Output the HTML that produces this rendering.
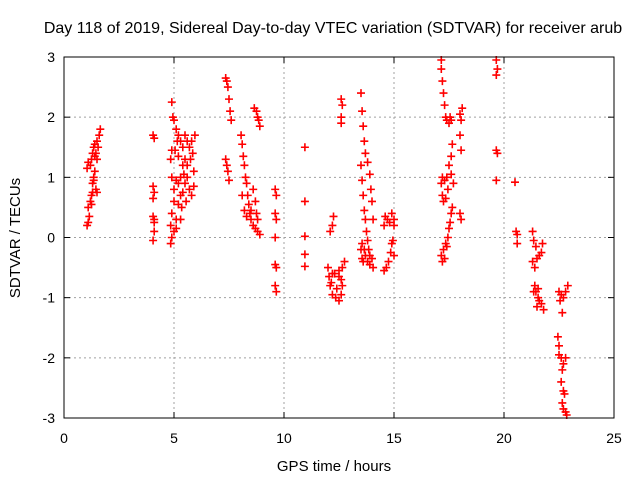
<!DOCTYPE html>
<html><head><meta charset="utf-8"><style>
body{margin:0;background:#fff;}
svg{font-family:"Liberation Sans",sans-serif;}
</style></head><body>
<svg id="c" width="640" height="480" xmlns="http://www.w3.org/2000/svg">
<rect width="640" height="480" fill="#fff"/>
<text x="333" y="33" font-size="16" text-anchor="middle">Day 118 of 2019, Sidereal Day-to-day VTEC variation (SDTVAR) for receiver arub</text>
<text x="334" y="471" font-size="15" text-anchor="middle">GPS time / hours</text>
<text transform="translate(20,238) rotate(-90)" font-size="15" text-anchor="middle">SDTVAR / TECUs</text>
<g id="grid"></g><g id="ticks"></g><g id="pts"></g>
<rect x="64" y="57" width="550" height="361" fill="none" stroke="#000" stroke-width="1"/>
</svg>
<script>
const xTicks=[0,5,10,15,20,25];
const yTicks=[-3,-2,-1,0,1,2,3];
const xs=[1.05,1.1,1.15,1.1,1.2,1.25,1.3,1.3,1.35,1.4,1.45,1.5,1.2,1.25,1.3,1.35,1.4,1.45,1.5,1.55,1.6,1.65,1.05,1.1,1.35,1.4,1.5,1.25,
4.05,4.1,4.05,4.1,4.05,4.05,4.1,4.1,4.05,4.1,
4.9,4.95,5.0,5.1,5.2,5.3,5.4,5.5,5.6,5.7,5.8,5.5,5.4,5.3,5.2,5.1,5.0,4.9,4.85,4.9,5.05,5.2,5.0,4.9,4.85,4.9,4.85,5.0,5.1,5.2,5.3,5.35,5.4,5.5,5.6,5.7,5.8,5.9,5.6,5.75,5.9,5.85,5.95,5.1,5.3,5.45,5.55,5.15,
7.35,7.4,7.45,7.5,7.55,7.6,7.35,7.4,7.45,7.5,
8.05,8.1,8.15,8.2,8.25,8.3,8.35,8.4,8.45,8.1,8.2,8.3,8.5,8.6,8.7,8.8,8.9,8.5,8.6,8.7,8.75,8.8,8.65,8.75,8.85,8.9,8.8,
9.6,9.65,9.6,9.65,9.6,9.6,9.65,9.6,9.65,
10.95,10.95,10.95,10.95,10.95,
12.1,12.2,12.25,
12.0,12.05,12.1,12.2,12.35,12.5,12.6,12.65,12.6,12.5,12.3,12.2,12.5,12.65,12.75,12.15,12.4,
12.6,12.65,12.6,12.6,
13.5,13.55,13.6,13.65,13.7,13.5,13.55,13.6,13.65,13.7,13.75,13.8,13.85,13.9,13.8,13.9,13.95,14.0,14.05,13.5,13.55,13.6,13.7,13.8,13.9,14.0,14.05,13.55,13.65,
14.55,14.6,14.7,14.8,14.9,15.0,15.0,14.55,14.65,14.75,14.85,14.9,14.95,15.0,
17.15,17.15,17.2,17.25,17.3,17.35,17.4,17.5,17.6,17.55,17.65,17.6,17.5,17.4,17.3,17.2,17.15,17.2,17.25,17.35,17.45,17.6,17.7,17.15,17.2,17.3,17.35,17.45,17.5,17.55,17.6,17.65,17.25,17.4,
18.0,18.05,18.0,18.05,18.0,18.05,18.1,
19.65,19.7,19.65,19.65,19.7,19.65,
20.5,20.6,20.6,20.55,
21.3,21.35,21.45,21.3,21.4,21.5,21.6,21.7,21.75,21.4,21.45,21.55,21.6,21.7,21.55,21.8,21.35,21.5,
22.5,22.6,22.7,22.8,22.9,22.55,22.65,22.45,22.5,22.6,22.65,22.7,22.8,22.6,22.7,22.75,22.65,22.7,22.8,22.85,22.5];
const ys=[0.2,0.25,0.35,0.5,0.6,0.7,0.75,0.9,1.0,1.1,0.8,0.75,1.2,1.3,1.4,1.5,1.55,1.4,1.3,1.5,1.7,1.8,1.15,1.25,0.95,1.35,1.6,0.55,
1.7,1.65,0.85,0.75,0.65,0.35,0.25,0.1,-0.05,0.3,
2.25,2.0,1.95,1.8,1.7,1.6,1.5,1.7,1.6,1.5,1.6,1.3,1.2,1.0,0.9,0.95,0.8,1.0,1.3,1.45,1.45,1.35,0.6,0.4,0.2,0.0,-0.1,0.1,0.3,0.55,0.7,0.5,0.75,0.9,1.0,0.8,0.7,0.85,1.2,1.3,1.1,1.4,1.7,0.15,0.3,1.05,0.6,1.6,
2.65,2.6,2.5,2.3,2.1,1.95,1.3,1.2,1.1,0.95,
1.7,1.55,1.35,1.2,1.0,0.9,0.7,0.55,0.4,0.7,0.45,0.35,0.3,0.2,0.15,0.1,0.05,0.45,0.8,0.6,0.4,0.3,2.15,2.1,1.95,1.85,2.0,
0.8,0.7,0.4,0.3,0.0,-0.45,-0.5,-0.8,-0.9,
1.5,0.6,0.02,-0.28,-0.48,
0.1,0.2,0.35,
-0.5,-0.65,-0.8,-0.95,-1.0,-1.05,-0.95,-0.8,-0.7,-0.65,-0.6,-0.6,-0.55,-0.5,-0.4,-0.75,-0.85,
2.3,2.2,2.0,1.9,
2.4,2.1,1.85,1.6,1.4,1.2,0.95,0.7,0.45,0.3,0.1,-0.05,-0.2,-0.3,1.25,1.05,0.8,0.6,0.3,-0.2,-0.35,-0.4,-0.3,-0.4,-0.45,-0.35,-0.5,-0.1,-0.2,
0.2,0.35,0.3,0.25,0.4,0.3,0.2,-0.55,-0.5,-0.4,-0.25,-0.1,-0.05,-0.3,
2.95,2.8,2.6,2.4,2.2,2.0,1.95,1.9,1.95,2.0,1.55,1.35,1.2,1.0,0.95,1.0,0.9,0.7,0.6,0.65,0.8,1.05,0.9,-0.3,-0.4,-0.35,-0.1,0.0,0.15,0.25,0.4,0.5,-0.2,-0.15,
2.05,1.95,1.7,1.45,0.4,0.3,2.15,
2.95,2.8,2.7,1.45,1.4,0.95,
0.92,0.05,-0.1,0.1,
0.1,-0.05,-0.15,-0.4,-0.5,-0.35,-0.3,-0.25,-0.1,-0.8,-0.9,-1.0,-1.05,-1.1,-0.85,-1.2,-0.9,-1.15,
-0.9,-0.95,-1.0,-0.9,-0.8,-1.05,-1.25,-1.65,-1.8,-2.0,-2.2,-2.1,-2.0,-2.4,-2.55,-2.6,-2.75,-2.85,-2.9,-2.95,-1.95];
const X=v=>64+(v-0)/25*550, Y=v=>418-(v+3)/6*361;
const NS='http://www.w3.org/2000/svg';
const mk=(t,a,p)=>{const e=document.createElementNS(NS,t);for(const k in a)e.setAttribute(k,a[k]);p.appendChild(e);return e;};
const g=document.getElementById('grid'),tk=document.getElementById('ticks'),pg=document.getElementById('pts');
xTicks.forEach(v=>{const x=X(v);
 if(v>0&&v<25){const l=mk('line',{x1:x,x2:x,y1:57,y2:418,stroke:'#a0a0a0','stroke-dasharray':'2,3'},g);
 
 }
 mk('line',{x1:x,x2:x,y1:418,y2:412,stroke:'#000'},tk);mk('line',{x1:x,x2:x,y1:57,y2:63,stroke:'#000'},tk);
 const t=mk('text',{x:x,y:443,'font-size':14,'text-anchor':'middle'},tk);t.textContent=v;
 
 });
yTicks.forEach(v=>{const y=Y(v);
 if(v>-3&&v<3){const l=mk('line',{x1:64,x2:614,y1:y,y2:y,stroke:'#a0a0a0','stroke-dasharray':'2,3'},g);
 
 }
 mk('line',{x1:64,x2:70,y1:y,y2:y,stroke:'#000'},tk);mk('line',{x1:614,x2:608,y1:y,y2:y,stroke:'#000'},tk);
 const t=mk('text',{x:55,y:y+5,'font-size':14,'text-anchor':'end'},tk);t.textContent=v;
 
 });
xs.forEach((xv,i)=>{const x=X(xv),y=Y(ys[i]);
 const p=mk('path',{d:`M${x-4},${y}H${x+4}M${x},${y-4}V${y+4}`,stroke:'#ff0000','stroke-width':1.6,fill:'none'},pg);
 
 });
</script>
</body></html>
